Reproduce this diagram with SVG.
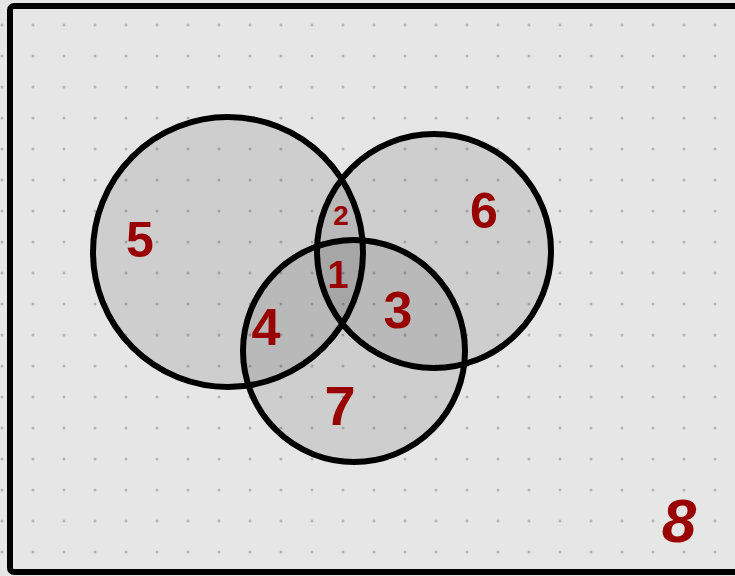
<svg xmlns="http://www.w3.org/2000/svg" width="735" height="576" viewBox="0 0 735 576">
  <style>
    .set { fill: #000000; fill-opacity: 0.1; stroke: #000000; stroke-width: 6; }
    .lbl { font-family: "Liberation Sans", "DejaVu Sans", sans-serif; font-weight: bold; fill: #990000; text-anchor: middle; }
  </style>
  <defs>
    <pattern id="dots" x="0" y="0" width="31" height="31" patternUnits="userSpaceOnUse">
      <circle cx="2" cy="25" r="1.5" fill="#b4b4b4"/>
    </pattern>
  </defs>
  <rect x="0" y="0" width="735" height="576" fill="#e6e6e6"/>
  <rect x="0" y="0" width="735" height="576" fill="url(#dots)"/>
  <g id="universe">
    <rect x="10" y="6" width="745" height="566" rx="4" fill="none" stroke="#000000" stroke-width="6"/>
    <text class="lbl" x="679" y="542" font-size="62" font-style="italic">8</text>
  </g>
  <g id="setA">
    <circle class="set" cx="228" cy="252" r="135"/>
  </g>
  <g id="setB">
    <circle class="set" cx="434" cy="251" r="117"/>
  </g>
  <g id="setC">
    <circle class="set" cx="354" cy="351" r="111"/>
  </g>
  <g id="labels">
    <text class="lbl" x="140" y="257" font-size="50">5</text>
    <text class="lbl" x="341" y="225" font-size="28">2</text>
    <text class="lbl" x="338" y="288" font-size="38">1</text>
    <text class="lbl" x="398" y="328" font-size="52">3</text>
    <text class="lbl" x="266" y="345" font-size="52">4</text>
    <text class="lbl" x="484" y="228" font-size="50">6</text>
    <text class="lbl" x="340" y="425" font-size="56">7</text>
  </g>
</svg>
